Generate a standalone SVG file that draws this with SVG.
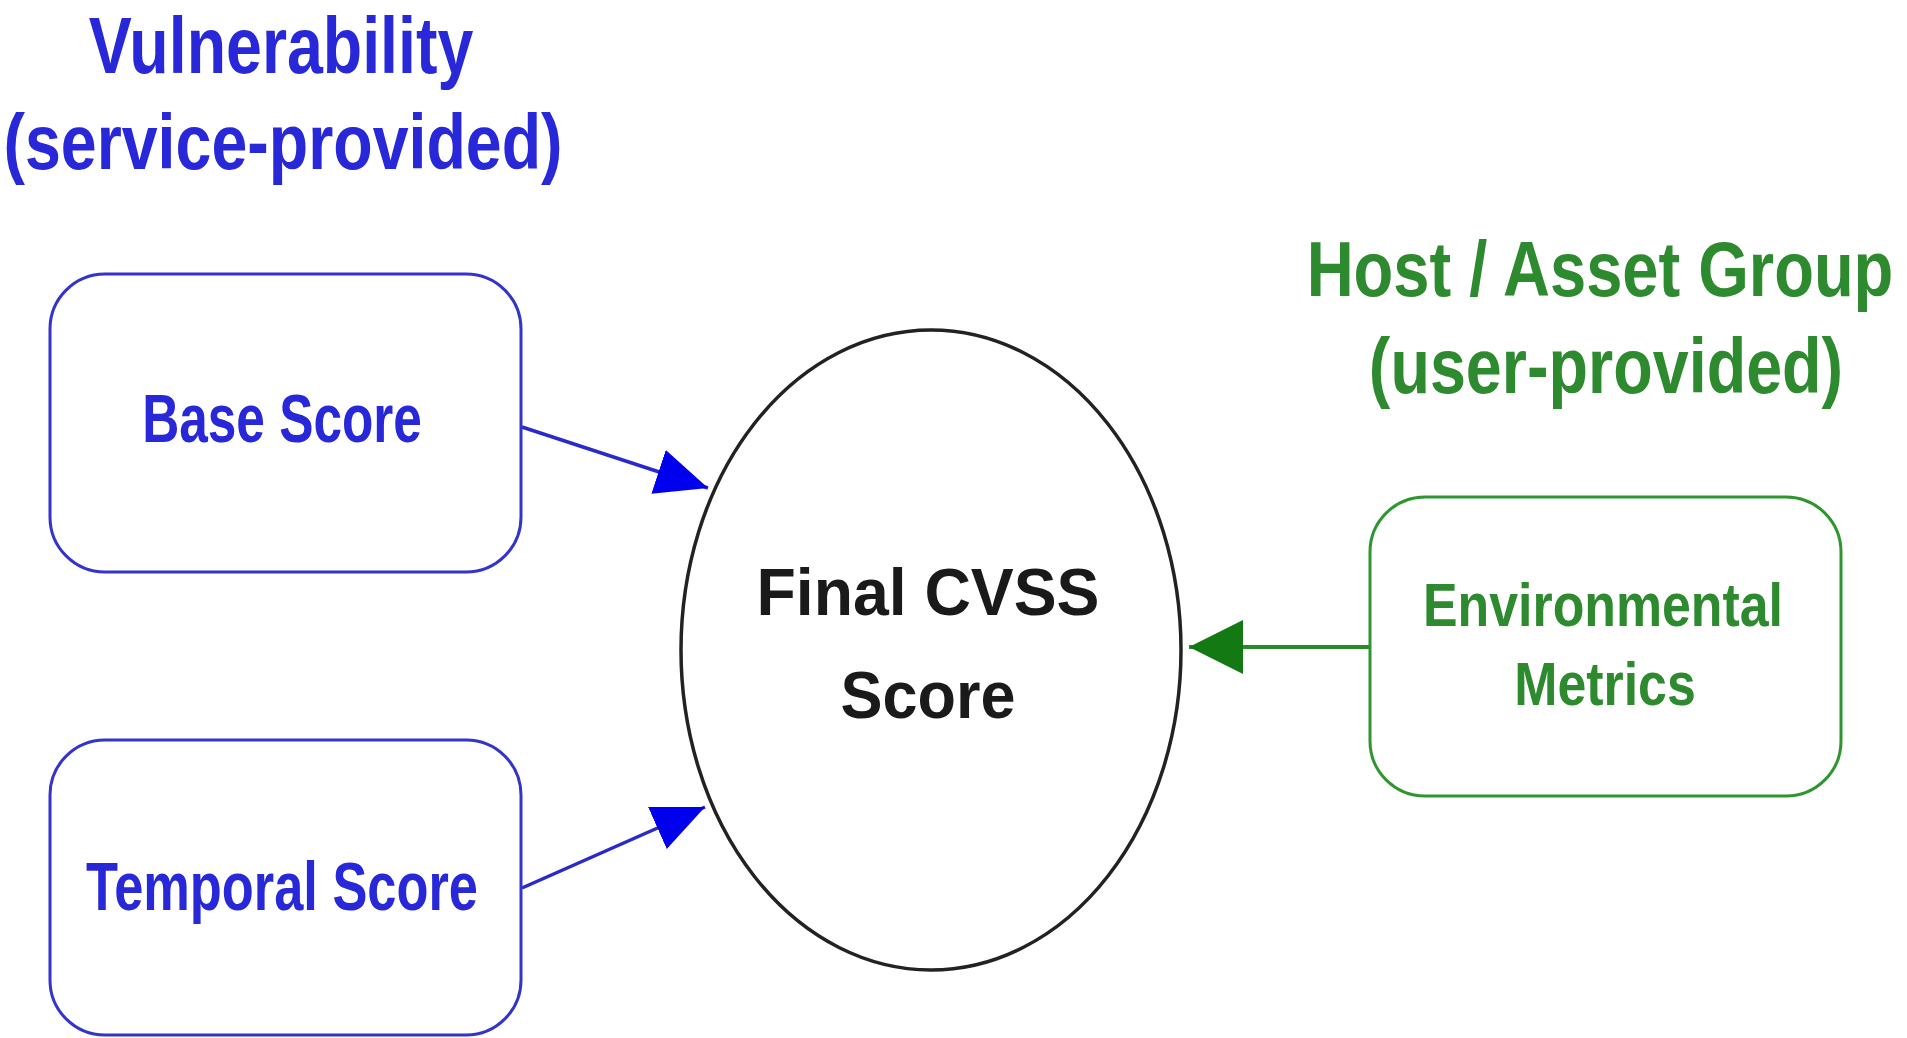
<svg xmlns="http://www.w3.org/2000/svg" width="1907" height="1038" viewBox="0 0 1907 1038">
  <style>
    text { font-family: "Liberation Sans", Arial, sans-serif; font-weight: bold; text-anchor: middle; }
    .blue { fill: #2828d8; }
    .green { fill: #2e8a2e; }
    .dark { fill: #1a1a1a; }
    .bbox { fill: #ffffff; stroke: #3434cc; stroke-width: 3; }
    .gbox { fill: #ffffff; stroke: #2f962f; stroke-width: 3; }
    .bline { stroke: #2a2acc; stroke-width: 3.5; fill: none; }
    .gline { stroke: #2a8a2a; stroke-width: 4; fill: none; }
  </style>
  <defs>
    <marker id="ab" markerUnits="userSpaceOnUse" markerWidth="60" markerHeight="50" refX="52" refY="23" orient="auto">
      <path d="M0,0 L52,23 L0,46 Z" fill="#0000ee"/>
    </marker>
    <marker id="ag" markerUnits="userSpaceOnUse" markerWidth="60" markerHeight="60" refX="54" refY="27" orient="auto">
      <path d="M0,0 L54,27 L0,54 Z" fill="#137a13"/>
    </marker>
  </defs>
  <rect width="1907" height="1038" fill="#ffffff"/>

  <g id="title-vulnerability">
    <text class="blue" font-size="80" transform="translate(281,73) scale(0.806,1)">Vulnerability</text>
    <text class="blue" font-size="78" transform="translate(283,169) scale(0.827,1)">(service-provided)</text>
  </g>

  <g id="title-host">
    <text class="green" font-size="77" transform="translate(1600,296) scale(0.845,1)">Host / Asset Group</text>
    <text class="green" font-size="77" transform="translate(1606,393) scale(0.84,1)">(user-provided)</text>
  </g>

  <g id="connectors">
    <line class="bline" x1="522" y1="427" x2="708" y2="488" marker-end="url(#ab)"/>
    <line class="bline" x1="522" y1="888" x2="705" y2="807" marker-end="url(#ab)"/>
    <line class="gline" x1="1370" y1="647" x2="1189" y2="647" marker-end="url(#ag)"/>
  </g>

  <g id="node-base">
    <rect class="bbox" x="50" y="274" width="471" height="298" rx="55" ry="55"/>
    <text class="blue" font-size="68" transform="translate(282,442) scale(0.755,1)">Base Score</text>
  </g>

  <g id="node-temporal">
    <rect class="bbox" x="50" y="740" width="471" height="295" rx="55" ry="55"/>
    <text class="blue" font-size="68" transform="translate(282,910) scale(0.77,1)">Temporal Score</text>
  </g>

  <g id="node-final">
    <ellipse cx="931" cy="650" rx="250" ry="320" fill="#ffffff" stroke="#222222" stroke-width="3.5"/>
    <text class="dark" x="928" y="615" font-size="66" textLength="343" lengthAdjust="spacingAndGlyphs">Final CVSS</text>
    <text class="dark" x="928" y="718" font-size="66" textLength="175" lengthAdjust="spacingAndGlyphs">Score</text>
  </g>

  <g id="node-environmental">
    <rect class="gbox" x="1370" y="497" width="471" height="299" rx="55" ry="55"/>
    <text class="green" font-size="62" transform="translate(1603,626) scale(0.836,1)">Environmental</text>
    <text class="green" font-size="62" transform="translate(1605,705) scale(0.836,1)">Metrics</text>
  </g>
</svg>
